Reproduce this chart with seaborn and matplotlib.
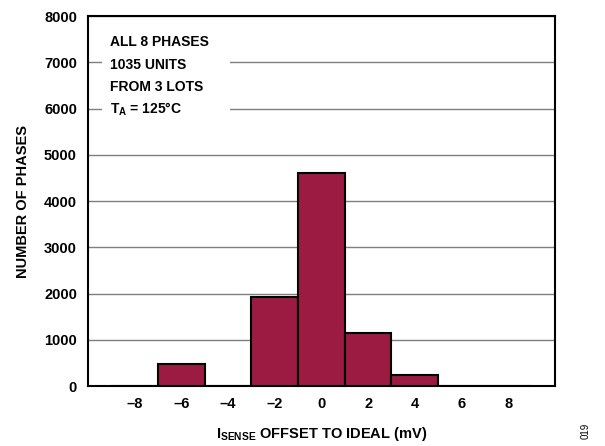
import numpy as np
import pandas as pd
import matplotlib
matplotlib.use("Agg")
import matplotlib.pyplot as plt
import seaborn as sns
from matplotlib.patches import Rectangle

# data
offset_mv = [-8, -6, -4, -2, 0, 2, 4, 6, 8]
n_phases = [0, 480, 0, 1930, 4600, 1150, 230, 0, 0]
bin_edges = [-9, -7, -5, -3, -1, 1, 3, 5, 7, 9]
x_ticks = [-8, -6, -4, -2, 0, 2, 4, 6, 8]
y_ticks = [0, 1000, 2000, 3000, 4000, 5000, 6000, 7000, 8000]
notes = ["ALL 8 PHASES", "1035 UNITS", "FROM 3 LOTS", r"$\mathbf{T_A}$ = 125°C"]

df = pd.DataFrame({"offset": offset_mv, "count": n_phases})

sns.set_style("white")
plt.rcParams["font.family"] = ["Liberation Sans", "DejaVu Sans"]
plt.rcParams["font.weight"] = "bold"
plt.rcParams["mathtext.fontset"] = "custom"
plt.rcParams["mathtext.bf"] = "Liberation Sans:bold"
plt.rcParams["mathtext.rm"] = "Liberation Sans:bold"
for k in ["text.color", "axes.labelcolor", "xtick.color", "ytick.color"]:
    plt.rcParams[k] = "black"

fig = plt.figure(figsize=(6.05, 4.46), dpi=100)
ax = fig.add_axes([0.1455, 0.1345, 0.7715, 0.8295])

sns.histplot(data=df, x="offset", weights="count", bins=bin_edges,
             color="#9B1B42", alpha=1, edgecolor="black", linewidth=1.5,
             ax=ax, zorder=3)

ax.set_xlim(-10, 10)
ax.set_ylim(0, 8000)
ax.set_xticks(x_ticks)
ax.set_yticks(y_ticks)
ax.set_xticklabels([f"{t}".replace("-", "\u2013") for t in x_ticks])
ax.tick_params(axis="both", length=0, labelsize=10.5, pad=8)
for lab in ax.get_xticklabels() + ax.get_yticklabels():
    lab.set_fontweight("bold")

ax.set_axisbelow(True)
ax.yaxis.grid(True, color="#7f7f7f", linewidth=1)
ax.xaxis.grid(False)
for s in ax.spines.values():
    s.set_color("black")
    s.set_linewidth(1.5)

ax.set_ylabel("NUMBER OF PHASES", fontsize=10.5, fontweight="bold", labelpad=10)
ax.set_xlabel(r"$\mathbf{I_{SENSE}}$ OFFSET TO IDEAL (mV)", fontsize=10.5,
              fontweight="bold", labelpad=10)

# white patch behind the notes so the grid lines stop there
ax.add_patch(Rectangle((0.03, 0.70), 0.274, 0.27, transform=ax.transAxes,
                       facecolor="white", edgecolor="none", zorder=1.5))
for i, t in enumerate(notes):
    ax.text(0.047, 0.93 - i * 0.061, t, transform=ax.transAxes, fontsize=10,
            fontweight="bold", va="center", ha="left", zorder=4)

fig.text(0.968, 0.035, "019", rotation=90, fontsize=7, fontweight="normal",
         ha="center", va="center")

fig.savefig("out.png", dpi=100)
